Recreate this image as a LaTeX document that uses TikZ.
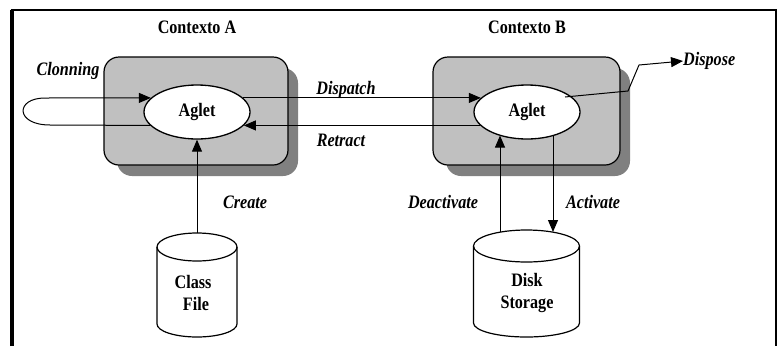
\documentclass[tikz,border=0pt]{standalone}
\usepackage{fontspec}
\setmainfont[FakeStretch=0.85]{Liberation Serif}
\usetikzlibrary{shapes.geometric,arrows.meta}
\tikzset{
  lbl/.style={font=\fontsize{19}{22}\selectfont\bfseries\itshape, inner sep=0pt},
  ttl/.style={font=\fontsize{19}{22}\selectfont\bfseries, inner sep=0pt},
  agl/.style={ellipse, draw, line width=1.3pt, fill=white, minimum width=106pt, minimum height=54pt, inner sep=0pt, font=\fontsize{19}{22}\selectfont\bfseries},
  ctx/.style={draw, line width=1.2pt, fill=ctxgray, rounded corners=15pt},
  shd/.style={fill=shdgray, rounded corners=15pt},
  arr/.style={line width=1pt, -{Triangle[length=12pt,width=10pt]}},
  cyl/.style={line width=1.2pt},
}
\definecolor{ctxgray}{RGB}{192,192,192}
\definecolor{shdgray}{RGB}{128,128,128}
\begin{document}
\begin{tikzpicture}[x=1pt,y=-1pt]
\useasboundingbox (0,0) rectangle (779,346);
% frame
\draw[line width=3.5pt] (12,346) -- (12,10);
\draw[line width=2.5pt] (10.5,10) -- (777,10);
\draw[line width=2pt] (776,9) -- (776,346);
% titles
\node[ttl] (tA) at (197,27) {Contexto A};
\node[ttl] (tB) at (527,27) {Contexto B};
% context boxes
\fill[shd] (117,68) rectangle (298,176);
\draw[ctx] (104,57) rectangle (288,165);
\fill[shd] (446,68) rectangle (630,176);
\draw[ctx] (433,57) rectangle (620,165);
% aglets
\node[agl] (aA) at (197,112) {Aglet};
\node[agl] (aB) at (527,112) {Aglet};
% cylinders
\draw[cyl] (157,247) -- (157,324) arc[start angle=180, end angle=0, x radius=40, y radius=13] -- (237,247);
\draw[cyl] (197,247) ellipse[x radius=40, y radius=14];
\node[ttl, align=center, font=\fontsize{19}{22}\selectfont\bfseries] (cA) at (193,293) {Class\\\hspace*{6pt}File};
\draw[cyl] (473.5,246) -- (473.5,323) arc[start angle=180, end angle=0, x radius=53, y radius=14] -- (579.5,246);
\draw[cyl] (526.5,246) ellipse[x radius=53, y radius=16];
\node[ttl, align=center, font=\fontsize{19}{22}\selectfont\bfseries] (cB) at (527,293) {Disk\\Storage};
\coordinate (cAtop) at (197,233);
\coordinate (cBl) at (500,232);
\coordinate (cBr) at (553,232);
% labels
\node[lbl] (lc) at (68,71) {Clonning};
\node[lbl] (ld) at (346,90) {Dispatch};
\node[lbl] (lr) at (341,140) {Retract};
\node[lbl] (lcr) at (245,202) {Create};
\node[lbl] (lde) at (443,202) {Deactivate};
\node[lbl] (lac) at (593,202) {Activate};
\node[lbl, anchor=west] (ldi) at (683,61) {Dispose};
% connectors
\coordinate (cl1) at (50,125);
\coordinate (cl2) at (45,98);
\draw[arr] (aA.196) -- (cl1) .. controls (15,125) and (15,98) .. (cl2) -- (aA.163);
\draw[arr] (aA.17) -- (aB.163);
\draw[arr] (aB.196) -- (aA.344);
\draw[arr] (cAtop) -- (aA.south);
\draw[arr] (cBl) -- (cBl |- aB.220);
\draw[arr] (cBr |- aB.318) -- (cBr);
\coordinate (dp1) at (628,91);
\coordinate (dp2) at (639,65);
\draw[arr] ([shift={(38,-15)}]aB.center) -- (dp1) -- (dp2) -- (ldi.west);
\end{tikzpicture}
\end{document}
